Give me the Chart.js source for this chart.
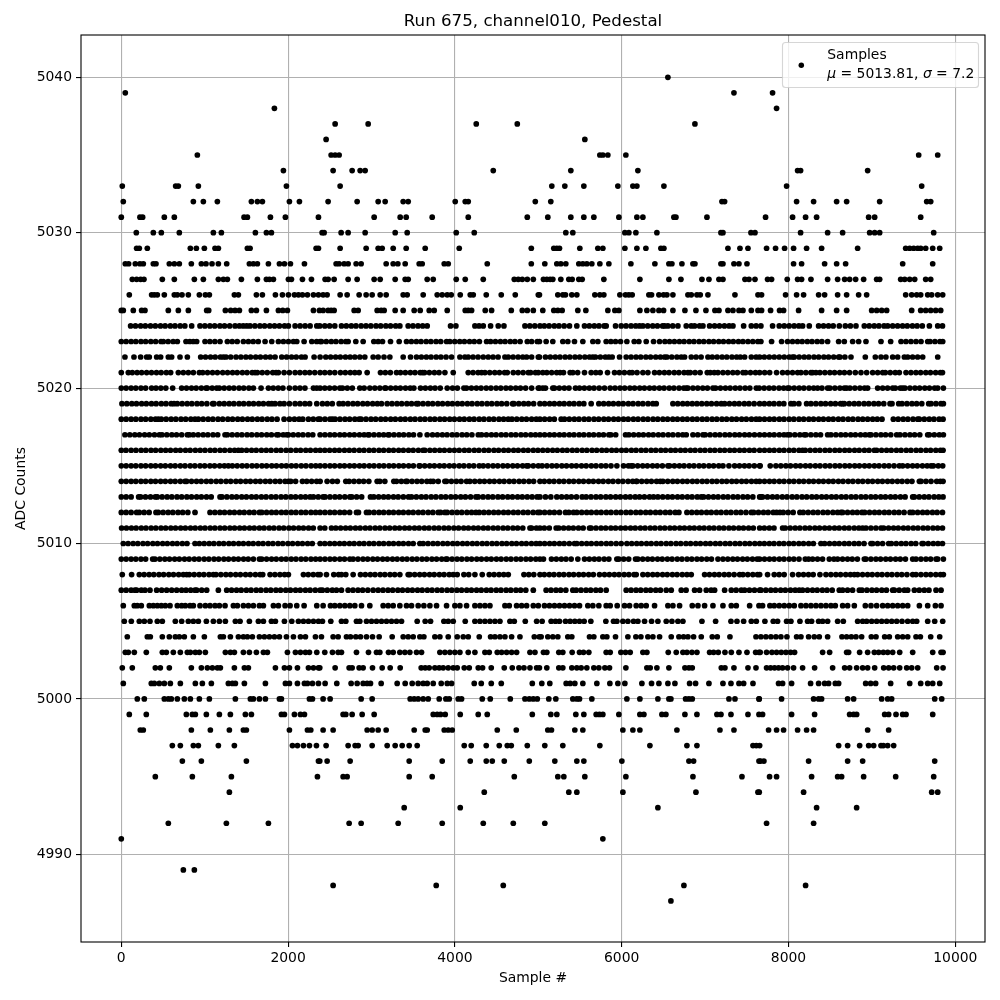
<!DOCTYPE html>
<html>
<head>
<meta charset="utf-8">
<script src="https://cdn.jsdelivr.net/npm/chart.js@4"></script>
<style>
    html, body { margin: 0; background: #fff; }
    canvas { display: block; }
</style>
</head>
<body>
<canvas id="grafico" width="1000" height="1000"></canvas>
<script>
// sample numbers, one list per ADC level
const L5040 = [6554];
const L5039 = [48,7346,7809];
const L5038 = [1836,7857];
const L5037 = [2564,2960,4256,4748,6878];
const L5036 = [2456,5558];
const L5035 = [912,2516,2564,2612,5738,5774,5834,6050,9561,9789];
const L5034 = [1944,2540,2768,2864,2924,4460,5390,6194,8109,8145,8949];
const L5033 = [12,652,684,924,1980,2624,5162,5318,5546,5954,6134,6182,6506,7977,9597];
const L5032 = [24,864,984,1152,1560,1632,1692,2016,2136,2480,2828,3080,3164,3380,3440,4004,4124,4160,4964,5150,7202,7234,8097,8301,8577,8697,9093,9657,9705];
const L5031 = [0,224,256,516,636,1472,1512,1788,1968,2364,3032,3344,3416,3728,4160,4868,5114,5390,5546,5666,5966,6182,6254,6626,6650,7022,7725,8049,8205,8337,8961,9033,9585];
const L5030 = [180,384,480,696,1104,1200,1608,1740,1800,2408,2432,2636,2720,2924,3284,3428,4016,4232,5330,5414,6038,6086,6170,6422,7190,7214,7550,7598,8145,8469,8649,8973,9033,9093,9741];
const L5029 = [184,216,312,828,900,996,1124,1164,1512,1544,2336,2364,2624,2936,3080,3128,3260,3416,3644,4052,4916,5186,5222,5254,5498,5714,5774,6038,6182,6290,6470,6506,7274,7418,7514,7737,7845,7953,8061,8217,8397,8829,9405,9453,9501,9549,9585,9645,9729,9813];
const L5028 = [48,88,168,224,264,384,416,576,636,696,840,960,1016,1088,1164,1264,1536,1584,1632,1764,1896,1956,2028,2196,2576,2612,2672,2720,2816,2876,3176,3260,3316,3404,3572,3608,3872,3920,4388,4916,5078,5222,5270,5330,5486,5534,5582,5642,5738,5846,6110,6398,6566,6602,6722,6854,6878,7190,7214,7346,7406,7502,8061,8157,8433,8577,8685,9369,9729];
const L5027 = [132,184,232,272,492,636,876,984,1164,1224,1272,1440,1632,1740,1776,1824,2004,2040,2172,2280,2444,2480,2552,2720,2828,3032,3104,3284,3404,3440,3668,3740,4016,4124,4340,4712,4760,4808,4868,4940,5062,5102,5142,5174,5270,5366,5406,5486,5526,5786,6218,6566,6710,6962,7046,7166,7214,7478,7526,7598,7749,7797,7985,8109,8157,8269,8469,8589,8673,8733,8805,8901,9057,9093,9345,9393,9453,9513,9645,9705];
const L5026 = [96,364,396,432,516,636,672,728,804,936,1008,1056,1356,1404,1620,1692,1848,1932,2004,2076,2124,2172,2232,2304,2364,2420,2468,2624,2708,2852,2936,3008,3104,3176,3380,3428,3620,3788,3848,3908,3956,4064,4184,4220,4376,4556,4724,5000,5014,5234,5294,5326,5402,5462,5678,5738,5786,5978,6046,6086,6126,6326,6358,6446,6502,6542,6614,6794,6834,6902,6942,7034,7358,7634,7677,7965,8097,8181,8361,8433,8589,8697,8841,8937,9405,9477,9537,9585,9669,9717,9789,9849];
const L5025 = [0,24,144,244,284,564,684,804,1024,1048,1248,1312,1364,1416,1560,1620,1740,1884,1936,1992,2304,2376,2420,2480,2516,2552,2792,2840,3068,3116,3152,3284,3380,3512,3584,3692,3752,3908,4124,4160,4200,4364,4440,4676,4808,4868,4940,5054,5186,5234,5286,5474,5570,5834,5918,5966,6218,6302,6374,6446,6502,6614,6758,6890,7010,7118,7166,7274,7334,7406,7454,7554,7634,7677,7785,7893,7941,8121,8397,8577,8697,8997,9057,9117,9177,9477,9585,9645,9705,9765,9825];
const L5024 = [112,170,232,288,350,408,470,526,588,644,706,762,844,944,1002,1062,1120,1182,1238,1300,1364,1416,1462,1504,1544,1602,1662,1718,1780,1838,1896,1958,2004,2084,2144,2204,2264,2344,2380,2440,2498,2560,2640,2698,2758,2814,2876,2934,2992,3054,3110,3172,3228,3290,3340,3440,3498,3558,3614,3668,3948,4012,4240,4290,4340,4428,4520,4588,4840,4898,4958,5020,5072,5130,5192,5248,5310,5374,5462,5554,5612,5672,5728,5790,5814,5926,5994,6052,6112,6168,6214,6254,6312,6372,6428,6490,6514,6554,6612,6674,6774,6834,6874,6934,6974,7054,7114,7172,7232,7288,7334,7462,7554,7612,7669,7809,7889,7949,8008,8068,8124,8169,8249,8361,8420,8480,8536,8609,8681,8742,8809,8909,8968,9028,9084,9146,9189,9249,9308,9368,9424,9486,9542,9604,9689,9789,9846];
const L5023 = [0,58,118,174,236,292,354,412,476,504,562,622,672,776,822,864,904,1004,1062,1122,1184,1272,1330,1390,1464,1524,1582,1642,1724,1804,1884,1944,2004,2064,2104,2192,2284,2342,2384,2400,2458,2518,2574,2636,2692,2720,2812,2900,3028,3080,3132,3228,3332,3420,3478,3538,3594,3656,3712,3774,3830,3900,3940,3998,4058,4114,4176,4232,4294,4380,4428,4486,4546,4602,4664,4720,4782,4868,4920,4988,5014,5094,5174,5294,5354,5434,5534,5654,5714,5814,5870,5926,5986,6062,6150,6206,6294,6382,6454,6518,6574,6632,6692,6748,6810,6866,6928,6984,7046,7102,7164,7220,7282,7338,7400,7454,7514,7572,7632,7669,7797,7917,7989,8048,8108,8164,8226,8282,8344,8400,8469,8601,8669,8769,8841,8929,9109,9225,9349,9408,9468,9529,9589,9669,9697,9756,9816,9849];
const L5022 = [44,152,232,304,336,424,472,564,604,704,792,952,1010,1070,1126,1188,1224,1256,1312,1376,1434,1494,1550,1612,1668,1730,1786,1844,1924,1982,2042,2098,2160,2204,2312,2384,2452,2510,2570,2626,2688,2744,2800,2860,2920,3020,3080,3150,3220,3380,3468,3540,3598,3658,3714,3776,3832,3894,3960,4060,4120,4160,4218,4278,4340,4400,4458,4518,4600,4640,4698,4758,4814,4860,4920,5000,5014,5086,5144,5204,5260,5322,5378,5440,5496,5558,5614,5654,5686,5744,5804,5846,5886,5974,6054,6112,6172,6228,6290,6346,6408,6464,6514,6542,6600,6662,6714,6754,6834,6892,6952,7034,7086,7144,7204,7260,7322,7378,7422,7474,7554,7612,7654,7710,7770,7829,7889,7949,8009,8049,8069,8128,8188,8244,8306,8362,8424,8480,8542,8601,8617,8676,8749,8921,9041,9109,9168,9249,9309,9389,9429,9488,9548,9609,9789];
const L5021 = [0,84,132,190,244,304,362,422,478,540,592,684,744,804,864,936,976,1034,1094,1152,1216,1274,1334,1390,1452,1508,1570,1604,1632,1690,1750,1816,1856,1884,1952,2016,2084,2142,2202,2258,2320,2384,2440,2500,2560,2628,2686,2746,2800,2852,2948,3108,3166,3226,3300,3348,3406,3466,3522,3584,3612,3636,3694,3754,3810,3880,3980,4160,4218,4278,4320,4360,4418,4478,4534,4596,4628,4700,4758,4818,4880,4908,4966,5000,5054,5102,5160,5220,5262,5302,5382,5414,5472,5554,5634,5690,5742,5830,5914,5972,6032,6094,6126,6184,6254,6314,6394,6452,6512,6568,6630,6686,6748,6794,6822,6880,6940,7026,7062,7110,7154,7214,7272,7332,7388,7454,7486,7544,7604,7654,7714,7774,7857,7929,7988,8048,8109,8149,8208,8268,8289,8329,8377,8436,8496,8552,8614,8670,8732,8801,8869,8937,9009,9069,9129,9161,9220,9280,9329,9409,9468,9528,9584,9646,9702,9764,9820,9846];
const L5020 = [0,58,118,174,236,292,364,416,474,534,616,724,782,842,898,960,1016,1032,1090,1144,1176,1234,1294,1350,1412,1468,1530,1584,1676,1764,1822,1882,1938,2016,2084,2142,2202,2304,2344,2384,2440,2498,2558,2620,2652,2710,2770,2860,2912,2980,3040,3100,3160,3172,3230,3290,3346,3408,3464,3508,3588,3646,3706,3762,3824,3908,3972,4030,4108,4140,4198,4258,4314,4376,4432,4494,4550,4612,4668,4730,4786,4848,4920,5000,5014,5054,5086,5174,5194,5252,5312,5368,5446,5494,5552,5612,5668,5730,5794,5862,5920,5980,6036,6098,6154,6216,6272,6334,6390,6452,6508,6570,6626,6688,6744,6774,6794,6854,6912,6972,7028,7094,7126,7184,7244,7300,7362,7418,7480,7536,7614,7649,7708,7768,7824,7886,7942,7989,8009,8068,8128,8184,8246,8302,8349,8401,8469,8497,8556,8616,8669,8697,8737,8796,8856,8912,8949,9069,9129,9188,9249,9281,9340,9369,9397,9456,9516,9572,9634,9690,9752,9789,9857];
const L5019 = [8,66,126,182,244,300,362,418,480,536,598,632,672,730,790,846,908,964,1026,1096,1112,1176,1234,1294,1350,1412,1468,1530,1586,1648,1704,1766,1804,1844,1902,1952,2016,2084,2142,2202,2258,2344,2412,2470,2530,2612,2660,2718,2778,2834,2896,2952,3014,3070,3120,3188,3246,3306,3362,3424,3480,3540,3560,3618,3678,3734,3796,3852,3914,3970,4032,4088,4150,4206,4268,4324,4386,4442,4504,4560,4622,4692,4708,4766,4826,4882,4944,5020,5076,5136,5192,5254,5310,5372,5428,5490,5546,5634,5726,5784,5844,5900,5962,6018,6080,6136,6198,6254,6316,6374,6414,6614,6672,6732,6788,6846,6902,6960,7020,7076,7138,7194,7234,7292,7352,7408,7470,7526,7588,7654,7710,7770,7826,7888,7944,8029,8065,8124,8217,8269,8328,8388,8444,8506,8562,8624,8649,8669,8728,8788,8844,8906,8962,9024,9080,9142,9217,9241,9321,9361,9420,9480,9536,9598,9681,9709,9768,9828,9857];
const L5018 = [0,58,118,174,236,292,354,410,444,480,538,598,654,716,772,834,884,924,982,1042,1098,1160,1216,1278,1334,1396,1452,1514,1570,1632,1688,1750,1806,1868,1952,2016,2076,2132,2176,2244,2302,2362,2384,2442,2502,2532,2564,2622,2682,2738,2800,2852,2876,2934,2994,3050,3112,3168,3230,3286,3348,3404,3466,3522,3584,3640,3702,3758,3820,3876,3938,3994,4056,4112,4174,4230,4292,4348,4410,4466,4528,4584,4640,4684,4742,4802,4858,4920,4976,5020,5076,5136,5192,5274,5314,5372,5432,5488,5550,5606,5668,5724,5786,5842,5904,5960,6022,6078,6140,6196,6258,6314,6376,6432,6494,6550,6612,6668,6730,6786,6848,6904,6966,7022,7084,7140,7202,7258,7320,7376,7438,7494,7556,7612,7654,7712,7772,7828,7890,7946,8008,8064,8126,8182,8244,8300,8362,8418,8480,8536,8598,8654,8716,8772,8834,8890,8949,9009,9064,9121,9257,9315,9375,9431,9493,9549,9569,9628,9688,9744,9806,9853];
const L5017 = [44,102,162,218,280,336,398,456,488,546,606,662,724,792,816,864,922,982,1038,1100,1156,1244,1272,1330,1390,1446,1508,1564,1626,1682,1744,1800,1864,1884,1942,1984,2004,2062,2122,2178,2240,2296,2384,2442,2502,2558,2620,2676,2738,2794,2856,2912,2960,2972,3030,3090,3146,3200,3212,3270,3330,3386,3448,3504,3580,3668,3732,3790,3850,3906,3968,4024,4086,4142,4204,4280,4320,4378,4438,4494,4556,4612,4674,4730,4792,4848,4910,4966,5020,5076,5136,5192,5254,5310,5372,5428,5490,5546,5608,5664,5726,5782,5846,5870,5928,6046,6086,6144,6204,6260,6322,6378,6440,6496,6558,6614,6676,6732,6774,6854,6912,6974,7002,7060,7120,7176,7238,7294,7356,7412,7474,7530,7592,7654,7712,7772,7828,7890,7946,7989,8017,8076,8136,8189,8209,8268,8328,8384,8469,8509,8568,8628,8684,8746,8802,8864,8920,8969,8989,9048,9108,9164,9226,9297,9337,9396,9456,9512,9574,9669,9689,9748,9808,9857];
const L5016 = [0,56,118,176,238,294,356,412,474,532,590,652,708,770,826,888,946,1004,1066,1122,1184,1240,1302,1358,1404,1444,1502,1562,1618,1680,1738,1796,1858,1914,1976,2032,2094,2150,2212,2268,2330,2384,2440,2498,2558,2614,2676,2734,2792,2854,2910,2972,3028,3090,3146,3208,3264,3326,3382,3444,3500,3562,3618,3640,3700,3758,3818,3874,3936,3994,4052,4114,4170,4232,4288,4350,4406,4468,4524,4586,4642,4704,4760,4822,4878,4940,4996,5054,5112,5172,5228,5290,5346,5408,5464,5526,5582,5644,5700,5762,5818,5880,5936,5998,6054,6116,6172,6234,6290,6352,6408,6470,6526,6588,6644,6706,6762,6824,6880,6942,6998,7060,7116,7178,7234,7296,7352,7414,7470,7532,7588,7654,7712,7772,7828,7890,7946,8008,8064,8126,8169,8201,8260,8320,8376,8438,8494,8556,8612,8674,8730,8792,8848,8910,8966,9029,9057,9116,9176,9232,9294,9350,9412,9468,9530,9586,9648,9704,9766,9822,9853];
const L5015 = [0,58,118,174,236,292,354,410,472,528,590,646,708,764,826,882,944,1000,1062,1118,1180,1236,1284,1332,1390,1450,1506,1568,1624,1686,1742,1804,1860,1922,1978,2040,2096,2158,2214,2276,2332,2384,2442,2502,2558,2620,2676,2738,2794,2856,2912,2974,3030,3092,3148,3210,3266,3328,3384,3446,3502,3572,3580,3638,3698,3754,3816,3872,3934,3990,4052,4108,4170,4226,4292,4340,4398,4458,4514,4576,4632,4694,4750,4812,4860,4880,4940,5000,5046,5104,5164,5220,5282,5338,5400,5456,5518,5574,5636,5692,5754,5810,5872,5942,6022,6080,6114,6134,6192,6252,6308,6370,6426,6488,6554,6574,6632,6692,6748,6810,6866,6928,6984,7046,7102,7164,7214,7286,7354,7412,7472,7528,7590,7654,7660,7781,7849,7908,7968,8024,8086,8142,8204,8260,8322,8378,8440,8496,8558,8614,8676,8732,8794,8850,8912,8968,9030,9086,9148,9204,9266,9329,9369,9428,9488,9544,9606,9662,9709,9737,9796,9849];
const L5014 = [0,58,118,174,236,292,354,410,472,528,590,646,708,764,784,842,902,958,1020,1076,1138,1194,1256,1312,1374,1430,1492,1548,1610,1666,1728,1784,1846,1902,1964,2004,2032,2090,2172,2224,2282,2342,2384,2468,2532,2590,2692,2732,2790,2850,2906,2968,3068,3100,3160,3268,3300,3358,3412,3428,3486,3546,3602,3664,3708,3740,3800,3880,3900,3958,4018,4074,4140,4180,4238,4298,4354,4416,4472,4534,4590,4652,4708,4770,4826,4888,4944,5020,5072,5132,5188,5250,5306,5368,5424,5486,5542,5604,5660,5722,5778,5840,5896,5958,6014,6076,6132,6174,6182,6240,6300,6356,6418,6462,6494,6552,6612,6668,6730,6786,6848,6904,6966,7022,7084,7140,7202,7258,7320,7376,7438,7494,7556,7612,7654,7712,7772,7828,7890,7946,8008,8064,8126,8182,8244,8300,8362,8418,8480,8536,8598,8654,8716,8772,8834,8890,8952,9008,9070,9126,9188,9244,9306,9362,9424,9480,9569,9589,9648,9709,9777,9820,9853];
const L5013 = [0,58,118,208,232,290,350,408,432,490,550,606,668,724,786,842,904,960,1022,1078,1184,1208,1266,1326,1382,1444,1500,1562,1618,1680,1736,1798,1854,1916,1972,2034,2090,2152,2208,2264,2304,2362,2420,2444,2502,2562,2618,2680,2740,2764,2822,2882,2988,3028,3086,3146,3202,3264,3320,3382,3444,3480,3538,3598,3654,3716,3772,3834,3890,3952,4008,4070,4126,4188,4252,4280,4338,4398,4454,4516,4572,4634,4690,4752,4808,4868,4926,4986,5020,5086,5150,5222,5280,5340,5396,5458,5526,5574,5632,5692,5748,5810,5866,5928,5984,6046,6102,6162,6214,6272,6334,6382,6434,6492,6552,6608,6670,6726,6788,6844,6906,6954,6982,7040,7100,7156,7218,7274,7336,7392,7454,7510,7572,7654,7669,7689,7748,7808,7864,7926,7982,8044,8100,8162,8218,8280,8336,8398,8454,8516,8572,8634,8690,8752,8808,8870,8926,8988,9044,9106,9162,9224,9280,9342,9398,9489,9509,9568,9628,9684,9746,9802,9853];
const L5012 = [0,58,118,184,216,274,334,416,444,502,562,618,680,736,798,884,1064,1122,1182,1238,1300,1356,1418,1474,1536,1592,1656,1684,1742,1802,1858,1920,1976,2038,2094,2156,2212,2274,2330,2384,2442,2502,2558,2620,2676,2738,2820,2844,2940,2972,3030,3090,3146,3208,3264,3326,3382,3444,3500,3562,3618,3680,3736,3800,3828,3880,3908,3966,4026,4082,4144,4200,4252,4292,4348,4406,4466,4522,4584,4640,4702,4758,4820,4876,4938,4994,5020,5076,5136,5192,5254,5326,5366,5422,5462,5520,5580,5636,5698,5754,5816,5872,5934,5990,6052,6108,6170,6226,6288,6344,6406,6462,6524,6580,6642,6686,6782,6840,6900,6956,7018,7074,7136,7192,7254,7310,7372,7428,7490,7554,7582,7640,7700,7756,7818,7857,7897,7937,7996,8056,8137,8177,8236,8296,8352,8414,8470,8532,8588,8629,8649,8708,8768,8824,8881,8913,8972,9032,9088,9150,9206,9268,9324,9386,9457,9489,9548,9608,9664,9726,9782,9846];
const L5011 = [4,62,122,178,240,296,358,414,476,532,594,650,712,768,830,886,948,1004,1066,1122,1184,1240,1302,1358,1420,1476,1538,1594,1656,1712,1774,1830,1892,1948,2010,2066,2128,2184,2246,2302,2384,2440,2520,2572,2630,2690,2746,2808,2864,2926,2982,3044,3100,3162,3218,3280,3336,3398,3454,3516,3572,3634,3690,3752,3808,3870,3926,3988,4044,4106,4162,4224,4280,4342,4398,4460,4516,4578,4634,4696,4752,4814,4900,4920,4978,5020,5072,5132,5214,5246,5304,5364,5420,5482,5538,5614,5634,5692,5752,5808,5870,5926,5988,6044,6106,6162,6224,6280,6342,6398,6460,6516,6578,6634,6696,6752,6814,6870,6932,6988,7050,7106,7168,7224,7286,7342,7404,7460,7522,7578,7654,7710,7770,7826,7929,7961,8020,8080,8136,8198,8254,8316,8372,8434,8490,8552,8608,8670,8726,8788,8844,8889,8929,8988,9048,9109,9141,9200,9260,9316,9378,9434,9496,9552,9614,9670,9732,9788,9846];
const L5010 = [24,82,142,198,260,316,378,434,496,552,614,670,732,788,884,936,994,1054,1110,1172,1228,1290,1346,1408,1464,1526,1582,1644,1700,1762,1818,1880,1936,1998,2054,2116,2172,2234,2290,2384,2440,2500,2558,2618,2674,2736,2792,2854,2910,2972,3028,3090,3146,3208,3264,3326,3382,3444,3500,3580,3620,3678,3738,3794,3856,3912,3974,4030,4092,4148,4210,4266,4328,4384,4446,4502,4564,4620,4682,4738,4800,4856,4918,4974,5020,5076,5136,5192,5254,5310,5372,5434,5462,5520,5580,5636,5698,5754,5816,5872,5934,5994,6062,6120,6180,6236,6298,6354,6416,6472,6534,6590,6652,6708,6770,6826,6888,6944,7006,7062,7124,7180,7242,7298,7360,7416,7478,7534,7596,7654,7710,7770,7826,7888,7944,8006,8062,8124,8180,8242,8298,8389,8433,8492,8552,8608,8670,8726,8788,8844,8906,8989,9009,9068,9128,9201,9233,9292,9352,9408,9470,9526,9601,9617,9676,9736,9792,9846];
const L5009 = [0,58,118,174,236,292,376,404,462,522,578,640,696,758,814,876,932,994,1050,1112,1168,1230,1286,1348,1404,1466,1522,1584,1656,1684,1742,1802,1858,1920,1976,2038,2094,2156,2212,2274,2330,2384,2442,2502,2558,2620,2676,2740,2780,2838,2898,2954,3016,3072,3134,3190,3252,3308,3370,3426,3488,3544,3606,3662,3724,3780,3842,3892,3908,3966,4026,4082,4144,4200,4262,4318,4380,4436,4498,4554,4616,4672,4734,4790,4852,4908,4970,5020,5062,5158,5216,5276,5332,5394,5474,5554,5612,5672,5728,5790,5846,5942,5966,6024,6084,6166,6194,6252,6312,6368,6430,6486,6548,6604,6666,6722,6784,6840,6902,6958,7020,7076,7154,7214,7272,7332,7388,7450,7506,7568,7624,7654,7712,7772,7828,7890,7946,8008,8064,8126,8201,8241,8289,8348,8408,8489,8545,8589,8648,8708,8764,8826,8909,8929,8988,9048,9104,9166,9222,9284,9340,9402,9489,9529,9588,9648,9704,9769,9789,9857];
const L5008 = [12,124,216,274,334,390,452,508,570,626,688,744,784,816,874,934,990,1052,1104,1136,1194,1254,1310,1372,1428,1490,1546,1608,1664,1696,1784,1842,1902,1958,2004,2184,2242,2302,2358,2384,2460,2548,2606,2640,2692,2780,2868,2926,2986,3042,3104,3160,3222,3278,3340,3440,3460,3518,3578,3634,3696,3752,3814,3870,3932,3980,4028,4108,4166,4240,4328,4412,4470,4530,4586,4640,4828,4886,4946,5020,5072,5132,5188,5250,5306,5368,5424,5486,5542,5604,5660,5734,5794,5852,5912,5968,6030,6086,6148,6174,6254,6312,6372,6428,6490,6546,6608,6664,6726,6782,6834,6994,7052,7112,7168,7230,7286,7348,7414,7454,7512,7572,7628,7654,7749,7829,7888,7948,8049,8121,8180,8240,8296,8377,8449,8508,8568,8624,8686,8742,8789,8829,8888,8948,9004,9066,9122,9184,9240,9302,9358,9420,9489,9529,9588,9648,9704,9766,9822,9857];
const L5007 = [0,58,118,164,184,240,284,344,424,484,544,604,664,724,776,832,884,904,964,1024,1164,1264,1322,1382,1438,1500,1556,1618,1674,1736,1792,1854,1910,1972,2028,2090,2146,2208,2264,2326,2384,2412,2470,2530,2580,2640,2720,2778,2838,2894,2956,3020,3080,3138,3198,3254,3316,3372,3434,3490,3552,3608,3670,3726,3788,3844,3906,3962,4024,4080,4142,4198,4260,4316,4378,4434,4496,4552,4614,4670,4732,4788,4850,4940,5094,5152,5212,5268,5330,5414,5454,5512,5572,5628,5690,5746,5814,6054,6112,6172,6228,6290,6346,6408,6464,6534,6594,6714,6772,6874,6934,7014,7072,7114,7234,7314,7372,7434,7474,7532,7592,7654,7669,7728,7788,7844,7906,7962,8024,8080,8129,8169,8228,8288,8344,8406,8462,8524,8609,8649,8708,8768,8849,8881,8940,9000,9056,9118,9174,9249,9269,9328,9389,9429,9509,9568,9628,9684,9769,9829];
const L5006 = [24,156,192,240,336,384,432,480,528,584,672,724,768,824,864,944,1008,1064,1124,1176,1244,1344,1392,1464,1524,1584,1656,1704,1824,1884,1964,2024,2104,2192,2344,2420,2508,2560,2620,2680,2740,2800,2880,2980,3140,3200,3260,3340,3420,3480,3560,3628,3700,3780,3900,4000,4060,4140,4240,4300,4360,4420,4600,4652,4740,4800,4860,4940,5000,5074,5134,5194,5254,5314,5374,5434,5494,5594,5654,5726,5814,5862,5946,6034,6094,6174,6234,6294,6394,6554,6614,6694,6846,6914,6994,7094,7214,7314,7374,7534,7646,7689,7777,7829,7889,7949,8009,8069,8149,8209,8269,8329,8389,8449,8509,8561,8649,8709,8789,8921,8989,9057,9129,9189,9249,9309,9369,9429,9569,9669,9761,9829];
const L5005 = [36,120,216,276,344,432,492,648,724,804,864,924,1020,1104,1176,1248,1368,1424,1536,1644,1704,1800,1848,1956,2044,2124,2184,2244,2304,2364,2412,2512,2640,2692,2820,2860,2940,3000,3060,3120,3180,3240,3300,3360,3548,3644,3708,3868,3920,3980,4124,4240,4300,4360,4420,4480,4540,4660,4712,4844,4980,5046,5154,5206,5254,5326,5382,5438,5494,5550,5630,5810,5902,5942,6014,6074,6142,6194,6274,6358,6434,6534,6602,6674,6734,6962,7126,7310,7382,7462,7554,7614,7717,7817,7869,7977,8029,8137,8229,8277,8361,8409,8469,8589,8657,8829,8889,8937,8997,9057,9117,9177,9237,9297,9361,9429,9489,9537,9669,9753,9849];
const L5004 = [72,312,348,492,576,648,696,756,864,996,1188,1224,1308,1404,1464,1512,1572,1656,1716,1776,1836,1896,1980,2064,2148,2208,2328,2400,2540,2600,2700,2748,2812,2868,2940,3012,3092,3248,3380,3440,3500,3580,3628,3760,3820,3920,4028,4100,4160,4292,4428,4480,4540,4600,4680,4780,4952,5012,5034,5114,5174,5234,5354,5402,5614,5666,5774,5822,5926,6074,6170,6230,6314,6374,6454,6594,6686,6742,6794,6862,6954,7086,7146,7298,7610,7669,7729,7789,7849,7909,7981,8097,8149,8241,8309,8369,8469,8641,8697,8753,8809,8877,8993,9049,9153,9209,9309,9369,9429,9529,9581,9705,9813];
const L5003 = [48,84,156,300,492,540,624,708,792,828,888,936,1008,1248,1308,1356,1464,1536,1620,1704,1752,1992,2088,2148,2208,2256,2344,2440,2532,2600,2640,2820,2964,3060,3100,3204,3260,3340,3400,3460,3540,3600,3820,3880,3940,4000,4060,4160,4240,4360,4412,4508,4560,4620,4680,4740,4900,4960,5062,5102,5246,5294,5406,5494,5542,5606,5814,5862,5990,6046,6102,6254,6302,6558,6654,6734,6782,6842,6902,7054,7102,7158,7238,7314,7406,7502,7606,7646,7661,7737,7801,7857,7913,7969,8025,8073,8409,8493,8697,8721,8853,8949,9029,9081,9137,9189,9249,9333,9489,9729,9829,9853];
const L5002 = [12,132,408,468,576,840,960,1032,1092,1152,1188,1356,1476,1524,1848,1956,2016,2112,2244,2304,2364,2380,2564,2732,2768,2852,2900,3012,3128,3224,3344,3596,3644,3692,3760,3812,3860,3920,3980,4028,4112,4172,4280,4332,4436,4592,4688,4768,4828,4900,4980,5014,5102,5246,5294,5402,5462,5514,5582,5666,5726,5798,5854,6050,6302,6342,6422,6566,6758,6806,6846,7194,7238,7346,7514,7610,7737,7785,7833,7881,7929,7989,8061,8169,8313,8529,8673,8733,8817,8889,8949,9033,9141,9201,9261,9333,9417,9477,9549,9777,9853];
const L5001 = [24,360,396,456,516,588,708,888,972,1080,1284,1332,1368,1476,1728,1968,2016,2112,2196,2232,2292,2364,2444,2584,2756,2828,2900,2948,2988,3116,3308,3404,3488,3560,3620,3668,3740,3836,3908,3960,4232,4316,4436,4556,4928,5042,5138,5334,5382,5438,5534,5702,5858,5954,6038,6242,6358,6446,6554,6638,6814,6886,7046,7214,7310,7406,7462,7574,7881,7929,8037,8265,8361,8433,8481,8561,8601,8925,8985,9045,9225,9453,9585,9669,9729,9813];
const L5000 = [192,276,516,564,600,672,756,828,936,1056,1368,1548,1584,1656,1728,1896,1920,2256,2292,2420,2504,2876,3008,3464,3512,3560,3620,3680,3812,3892,3932,4040,4080,4328,4424,4664,4840,4892,4940,4988,5126,5210,5414,5462,5494,5642,6062,6218,6434,6566,6590,6766,6806,6846,7286,7358,7646,7649,7917,8301,8361,8397,8709,8781,9117,9189,9237,9753,9837];
const L4999 = [96,300,780,852,888,1020,1176,1308,1488,1560,1920,1956,2076,2148,2196,2660,2692,2768,2888,3032,3740,3788,3828,3884,4064,4280,4388,4928,5150,5222,5450,5546,5694,5734,5774,5966,6218,6266,6482,6530,6758,6902,7142,7190,7310,7514,7646,7689,8037,8313,8733,8781,8817,9153,9201,9289,9369,9409,9729];
const L4998 = [228,264,840,1068,1296,1464,1500,2016,2232,2272,2420,2540,2948,3008,3080,3176,3512,3644,3668,3872,3920,3968,4508,4736,5114,5158,5438,5534,6014,6134,6218,6662,7178,7346,7761,7857,7941,8109,8217,8301,8949,9201];
const L4997 = [612,708,864,924,1164,1356,2052,2112,2184,2256,2340,2456,2720,2804,2840,3008,3188,3284,3368,3452,3548,4112,4196,4376,4532,4628,4676,4868,5078,5294,5738,6338,6782,6902,7574,7614,7654,8601,8709,8853,8961,9021,9109,9137,9189,9261];
const L4996 = [732,960,1500,2364,2380,2468,2744,3452,3848,4184,4376,4448,4592,4892,5198,5462,5546,6002,6806,6862,7646,7665,7705,8241,8709,8889,9753];
const L4995 = [408,852,1320,2352,2660,2708,3452,3728,4712,5234,5306,5558,6050,6854,7442,7773,7857,8277,8589,8637,8901,9285,9741];
const L4994 = [1296,4352,5366,5462,6014,6890,7634,7649,8181,9717,9789];
const L4993 = [3392,4064,6434,8337,8817];
const L4992 = [564,1260,1764,2732,2876,3320,3848,4340,4700,5078,7737,8301];
const L4991 = [0,5774];
const L4989 = [744,876];
const L4988 = [2540,3776,4580,6746,8205];
const L4987 = [6590];

const adcLevels = [5040,5039,5038,5037,5036,5035,5034,5033,5032,5031,5030,5029,5028,5027,5026,5025,5024,5023,5022,5021,5020,5019,5018,5017,5016,5015,5014,5013,5012,5011,5010,5009,5008,5007,5006,5005,5004,5003,5002,5001,5000,4999,4998,4997,4996,4995,4994,4993,4992,4991,4989,4988,4987];
const samplesPorNivel = [L5040,L5039,L5038,L5037,L5036,L5035,L5034,L5033,L5032,L5031,L5030,L5029,L5028,L5027,L5026,L5025,L5024,L5023,L5022,L5021,L5020,L5019,L5018,L5017,L5016,L5015,L5014,L5013,L5012,L5011,L5010,L5009,L5008,L5007,L5006,L5005,L5004,L5003,L5002,L5001,L5000,L4999,L4998,L4997,L4996,L4995,L4994,L4993,L4992,L4991,L4989,L4988,L4987];

const xTicks = [0,2000,4000,6000,8000,10000];
const yTicks = [4990,5000,5010,5020,5030,5040];

const FONTE = "'DejaVu Sans', sans-serif";

// moldura e legenda no estilo matplotlib
const moldura = {
    id: "moldura",
    afterDatasetsDraw(chart) {
        const { ctx, chartArea: a } = chart;
        ctx.save();
        ctx.strokeStyle = "#000";
        ctx.lineWidth = 1.1;
        ctx.strokeRect(a.left, a.top, a.right - a.left, a.bottom - a.top);
        ctx.restore();
    },
    afterDraw(chart) {
        const { ctx } = chart;
        ctx.save();
        ctx.beginPath();
        ctx.roundRect(782.5, 42.5, 196, 45, 3);
        ctx.fillStyle = "rgba(255,255,255,0.8)";
        ctx.fill();
        ctx.strokeStyle = "rgba(204,204,204,0.8)";
        ctx.lineWidth = 1.1;
        ctx.stroke();

        ctx.beginPath();
        ctx.arc(801.3, 65.3, 2.75, 0, Math.PI * 2);
        ctx.fillStyle = "#000";
        ctx.fill();

        ctx.fillStyle = "#000";
        ctx.textBaseline = "alphabetic";
        ctx.font = "13.9px " + FONTE;
        ctx.fillText("Samples", 827.3, 59);
        let x = 827.3;
        [["μ", true], [" = 5013.81, ", false], ["σ", true], [" = 7.2", false]].forEach(([txt, it]) => {
            ctx.font = (it ? "italic " : "") + "13.9px " + FONTE;
            ctx.fillText(txt, x, 77.5);
            x += ctx.measureText(txt).width;
        });
        ctx.restore();
    }
};

new Chart(document.getElementById("grafico").getContext("2d"), {
    type: "scatter",
    data: {
        datasets: [{
            label: "Samples",
            data: adcLevels.flatMap((nivel, i) => samplesPorNivel[i].map(s => ({ x: s, y: nivel }))),
            backgroundColor: "#000",
            borderWidth: 0,
            pointRadius: 2.85,
        }]
    },
    options: {
        responsive: false,
        animation: false,
        layout: { padding: { right: 15 } },
        plugins: {
            legend: { display: false },
            tooltip: { enabled: false },
            title: {
                display: true,
                fullSize: false,
                text: "Run 675, channel010, Pedestal",
                color: "#000",
                font: { family: FONTE, size: 16.67, weight: "normal", lineHeight: 1.2 },
                padding: { top: 12, bottom: 3 }
            }
        },
        scales: {
            x: {
                type: "linear",
                min: -483,
                max: 10356,
                afterFit: s => { s.height = 58; },
                afterBuildTicks: s => { s.ticks = xTicks.map(v => ({ value: v })); },
                grid: { color: "#b0b0b0", lineWidth: 1.1, tickColor: "#000", tickLength: 5 },
                border: { display: false },
                ticks: { color: "#000", font: { family: FONTE, size: 13.9 }, padding: 3, maxRotation: 0, autoSkip: false, callback: v => String(v) },
                title: { display: true, text: "Sample #", color: "#000", font: { family: FONTE, size: 13.9 }, padding: { top: 0, bottom: 13 } }
            },
            y: {
                type: "linear",
                min: 4984.36,
                max: 5042.72,
                afterFit: s => { s.width = 81; },
                afterBuildTicks: s => { s.ticks = yTicks.map(v => ({ value: v })); },
                grid: { color: "#b0b0b0", lineWidth: 1.1, tickColor: "#000", tickLength: 5 },
                border: { display: false },
                ticks: { color: "#000", font: { family: FONTE, size: 13.9 }, padding: 4, autoSkip: false, callback: v => String(v) },
                title: { display: true, text: "ADC Counts", color: "#000", font: { family: FONTE, size: 13.9 }, padding: { top: 13, bottom: 0 } }
            }
        }
    },
    plugins: [moldura]
});
</script>
</body>
</html>
